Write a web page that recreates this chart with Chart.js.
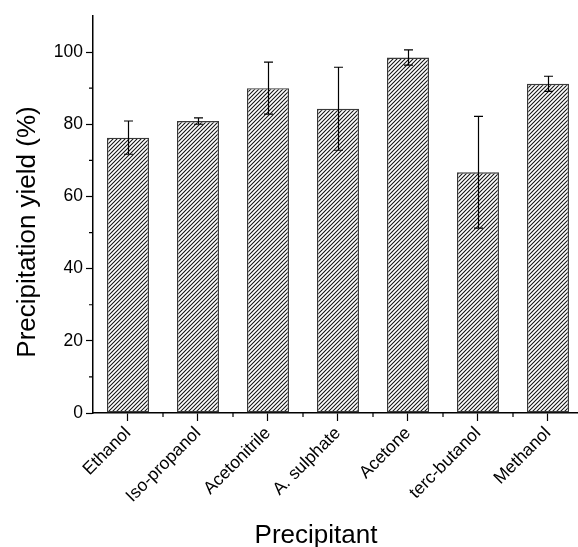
<!DOCTYPE html>
<html>
<head>
<meta charset="utf-8">
<script src="https://cdn.jsdelivr.net/npm/chart.js@4/dist/chart.umd.min.js"></script>
<style>
html,body{margin:0;padding:0;background:#fff;}
#wrap{width:578px;height:547px;}
</style>
</head>
<body>
<div id="wrap"><canvas id="c" width="578" height="547"></canvas></div>
<script>
const categories = ['Ethanol','Iso-propanol','Acetonitrile','A. sulphate','Acetone','terc-butanol','Methanol'];
const yieldValues = [76.3, 80.9, 90.0, 84.3, 98.5, 66.7, 91.2];
const yieldErrors = [4.6, 0.9, 7.2, 11.5, 2.1, 15.5, 2.1];
const yTickValues = [0, 20, 40, 60, 80, 100];
const yMinorTicks = [10, 30, 50, 70, 90];
const xMinorTicks = [0.5, 1.5, 2.5, 3.5, 4.5, 5.5];
const xTitle = 'Precipitant';
const yTitle = 'Precipitation yield (%)';

const FONT = "'Liberation Sans', Arial, sans-serif";
const TITLE_FONT = "26px 'Liberation Sans', Arial, sans-serif";

function makeHatch(){
  const s = 4;
  const c = document.createElement('canvas');
  c.width = s; c.height = s;
  const g = c.getContext('2d');
  g.fillStyle = '#fff';
  g.fillRect(0,0,s,s);
  g.strokeStyle = '#111';
  g.lineWidth = 1.05;
  g.beginPath();
  g.moveTo(-1, s+1); g.lineTo(s+1, -1);
  g.moveTo(-1, 1); g.lineTo(1, -1);
  g.moveTo(s-1, s+1); g.lineTo(s+1, s-1);
  g.stroke();
  return g.createPattern(c, 'repeat');
}

const extras = {
  id: 'extras',
  afterDatasetsDraw(chart){
    const ctx = chart.ctx;
    const xs = chart.scales.x, ys = chart.scales.y;
    ctx.save();
    ctx.strokeStyle = '#000';
    ctx.lineWidth = 1.2;
    yieldValues.forEach((v,i)=>{
      const x = Math.round(xs.getPixelForValue(i)) + 0.5;
      const t = ys.getPixelForValue(v + yieldErrors[i]);
      const b = ys.getPixelForValue(v - yieldErrors[i]);
      ctx.beginPath();
      ctx.moveTo(x, t); ctx.lineTo(x, b);
      ctx.moveTo(x-4.5, t); ctx.lineTo(x+4.5, t);
      ctx.moveTo(x-4.5, b); ctx.lineTo(x+4.5, b);
      ctx.stroke();
    });
    ctx.restore();
  },
  afterDraw(chart){
    const ctx = chart.ctx;
    const xs = chart.scales.x, ys = chart.scales.y;
    const a = chart.chartArea;
    ctx.save();
    ctx.strokeStyle = '#000';
    ctx.lineWidth = 1.2;
    ctx.beginPath();
    yMinorTicks.forEach(v=>{
      const y = ys.getPixelForValue(v);
      ctx.moveTo(a.left, y); ctx.lineTo(a.left-4, y);
    });
    xMinorTicks.forEach(v=>{
      const x = xs.getPixelForValue(v);
      ctx.moveTo(x, a.bottom); ctx.lineTo(x, a.bottom+4);
    });
    ctx.stroke();
    // axis titles
    ctx.fillStyle = '#000';
    ctx.font = TITLE_FONT;
    ctx.textAlign = 'center';
    ctx.textBaseline = 'alphabetic';
    ctx.fillText(xTitle, 316, 543);
    ctx.translate(35, 232);
    ctx.rotate(-Math.PI/2);
    ctx.fillText(yTitle, 0, 0);
    ctx.restore();
  }
};

new Chart(document.getElementById('c'), {
  type: 'bar',
  data: {
    datasets: [{
      data: yieldValues.map((v,i)=>({x:i, y:v})),
      backgroundColor: makeHatch(),
      borderColor: '#3a3a3a',
      borderWidth: 1.4,
      borderSkipped: false,
      barPercentage: 0.6,
      categoryPercentage: 1
    }]
  },
  options: {
    responsive: false,
    animation: false,
    devicePixelRatio: 1,
    layout: { padding: { top: 16, right: 0, left: 0, bottom: 0 } },
    plugins: { legend: {display:false}, tooltip: {enabled:false} },
    scales: {
      x: {
        type: 'linear',
        offset: false,
        min: -0.5,
        max: 6.4286,
        afterBuildTicks(s){ s.ticks = categories.map((c,i)=>({value:i})); },
        afterFit(s){ s.height = 134; s.paddingLeft = 0; s.paddingRight = 0; },
        grid: { display: true, offset: false, drawOnChartArea: false, tickLength: 8, tickColor: '#000', tickWidth: 1.2 },
        border: { display: true, color: '#000', width: 1.5 },
        ticks: {
          autoSkip: false,
          minRotation: 45, maxRotation: 45,
          padding: 2,
          color: '#000',
          font: { family: FONT, size: 17.5 },
          callback: (v)=> categories[Math.round(v)] ?? ''
        },
        title: { display: false }
      },
      y: {
        min: 0,
        max: 110,
        afterBuildTicks(s){ s.ticks = yTickValues.map(v=>({value:v})); },
        afterFit(s){ s.width = 93; },
        grid: { display: true, drawOnChartArea: false, tickLength: 7, tickColor: '#000', tickWidth: 1.2 },
        border: { display: true, color: '#000', width: 1.5 },
        ticks: { padding: 3, color: '#000', font: { family: FONT, size: 17.5 } },
        title: { display: false }
      }
    }
  },
  plugins: [extras]
});
</script>
</body>
</html>
